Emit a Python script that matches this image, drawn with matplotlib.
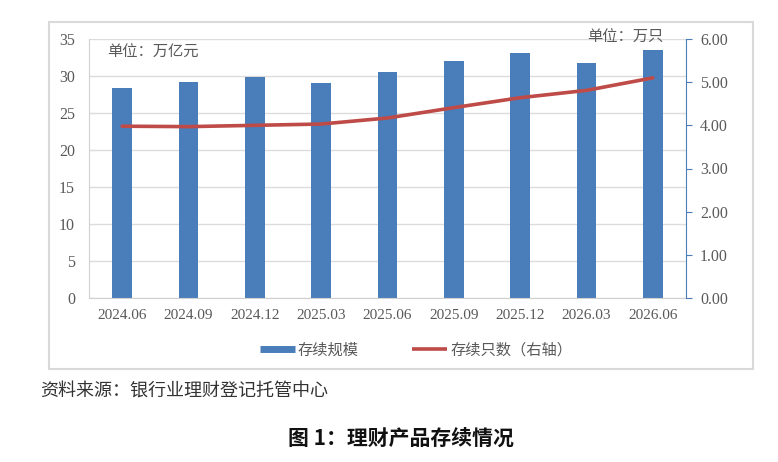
import matplotlib.pyplot as plt
from matplotlib.lines import Line2D
from matplotlib.patches import Rectangle

plt.rcParams['font.family'] = ['Liberation Serif', 'Noto Sans CJK SC', 'DejaVu Sans']

quarters = ['2024.06', '2024.09', '2024.12', '2025.03', '2025.06',
            '2025.09', '2025.12', '2026.03', '2026.06']
scale = [28.4, 29.2, 29.8, 29.0, 30.5, 32.0, 33.1, 31.8, 33.5]      # 万亿元
count = [3.98, 3.97, 4.00, 4.03, 4.17, 4.41, 4.64, 4.81, 5.10]     # 万只

blue = '#4a7ebb'
red = '#be4b48'
grey = '#595959'
W, H = 778, 462

fig = plt.figure(figsize=(W / 100, H / 100), dpi=100)

# outer frame of the chart
fig.patches.append(Rectangle((49 / W, 1 - 369 / H), (753 - 49) / W, (369 - 22) / H,
                             transform=fig.transFigure, fill=False,
                             edgecolor='#d9d9d9', lw=1.5))

ax = fig.add_axes([89 / W, 1 - 298 / H, (686 - 89) / W, (298 - 39) / H])
x = range(len(quarters))
ax.bar(x, scale, width=0.3, color=blue, zorder=2)
ax.set_xlim(-0.5, len(quarters) - 0.5)
ax.set_ylim(0, 35)
ax.set_yticks(range(0, 36, 5))
ax.set_xticks(list(x))
ax.set_xticklabels(quarters)
ax.grid(axis='y', color='#dcdcdc', lw=1, zorder=0)
ax.tick_params(axis='x', labelsize=11, labelcolor=grey, length=0, pad=8)
ax.tick_params(axis='y', labelsize=11.5, labelcolor=grey, length=0, pad=10)
for s in ['top', 'right']:
    ax.spines[s].set_visible(False)
for s in ['left', 'bottom']:
    ax.spines[s].set_color('#d0d0d0')

ax2 = ax.twinx()
ax2.plot(x, count, color=red, lw=2.6, solid_capstyle='round', zorder=3)
ax2.set_ylim(0, 6)
ax2.set_yticks(range(0, 7))
ax2.set_yticklabels([f'{v:.2f}' for v in range(0, 7)])
ax2.tick_params(axis='y', labelsize=11.5, labelcolor=grey, color=blue,
                length=4, direction='out', pad=6)
for s in ['top', 'left', 'bottom']:
    ax2.spines[s].set_visible(False)
ax2.spines['right'].set_color(blue)

fig.text(107 / W, 1 - 52 / H, '单位：万亿元', fontsize=11, color=grey,
         family=['Noto Sans CJK SC'], va='center')
fig.text(663 / W, 1 - 37 / H, '单位：万只', fontsize=11, color=grey,
         family=['Noto Sans CJK SC'], va='center', ha='right')

handles = [Line2D([], [], color=blue, lw=5, solid_capstyle='butt'),
           Line2D([], [], color=red, lw=2.6, solid_capstyle='butt')]
fig.legend(handles, ['存续规模', '存续只数（右轴）'], loc='center',
           bbox_to_anchor=(416 / W, 1 - 350 / H), ncol=2, frameon=False,
           prop={'family': ['Noto Sans CJK SC'], 'size': 11},
           labelcolor=grey, handlelength=2.3, handletextpad=0.2,
           columnspacing=3.5)

fig.text(40 / W, 1 - 392 / H, '资料来源：银行业理财登记托管中心', fontsize=13,
         color='#333333', family=['Noto Sans CJK SC'], fontweight='light',
         va='center')
fig.text(401 / W, 1 - 438 / H, '图 1：理财产品存续情况', fontsize=15,
         fontweight='bold', color='#111111', family=['Noto Sans CJK SC'],
         va='center', ha='center')

fig.savefig('out.png', dpi=100)
